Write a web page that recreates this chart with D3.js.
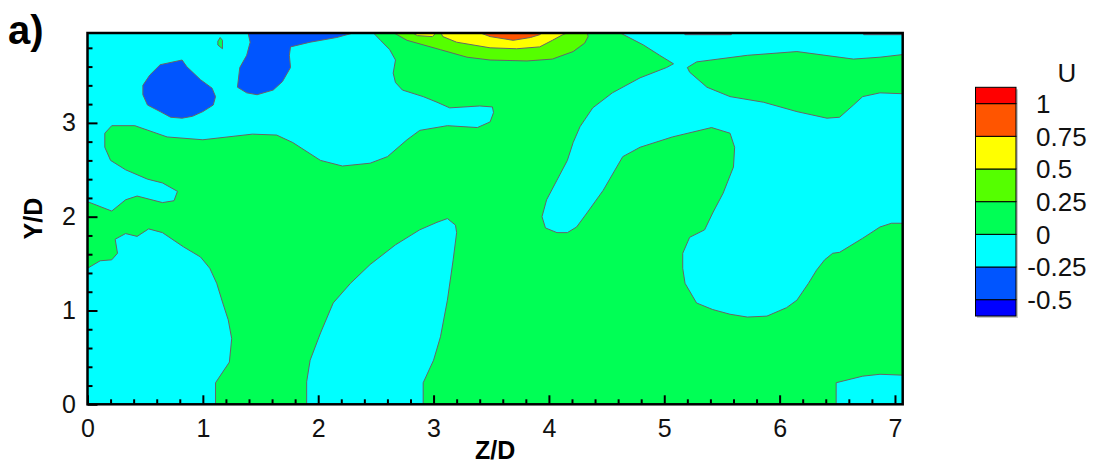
<!DOCTYPE html>
<html>
<head>
<meta charset="utf-8">
<script src="https://cdn.jsdelivr.net/npm/d3@7"></script>
<style>
  body { margin: 0; background: #fff; }
  svg { display: block; font-family: "Liberation Sans", Arial, sans-serif; }
</style>
</head>
<body>
<svg id="chart" width="1097" height="463"></svg>
<script>
// contour levels of U and the colour of each band (below -0.5 ... above 1)
const levels = [-0.5, -0.25, 0, 0.25, 0.5, 0.75, 1];
const bandColors = ["#0000ff", "#0055ff", "#00ffff", "#00ff55", "#55ff00", "#ffff00", "#ff5500", "#ff0000"];
const zTicks = [0, 1, 2, 3, 4, 5, 6, 7];
const yTicks = [0, 1, 2, 3];

// region outlines, in (Z/D, Y/D); band = index into bandColors
const greenMain = [
  [0,2.16],[0.21,2.06],[0.33,2.18],[0.43,2.22],[0.65,2.15],[0.75,2.17],[0.78,2.27],[0.65,2.36],
  [0.52,2.40],[0.33,2.50],[0.20,2.60],[0.15,2.74],[0.15,2.89],[0.21,2.97],[0.41,2.97],[0.69,2.85],
  [1.00,2.82],[1.43,2.88],[1.64,2.87],[1.78,2.79],[2.02,2.60],[2.21,2.54],[2.45,2.57],[2.60,2.64],
  [2.77,2.82],[2.88,2.92],[3.12,2.97],[3.38,2.95],[3.49,3.01],[3.52,3.11],[3.51,3.17],[3.40,3.18],
  [3.14,3.16],[3.03,3.22],[2.91,3.28],[2.73,3.35],[2.67,3.43],[2.65,3.53],[2.67,3.67],[2.62,3.78],
  [2.54,3.88],[2.47,3.97],
  [4.60,3.97],[4.82,3.83],[4.96,3.72],[5.08,3.63],[5.02,3.59],[4.79,3.48],[4.55,3.32],[4.38,3.16],
  [4.27,2.96],[4.21,2.79],[4.16,2.60],[4.07,2.39],[3.98,2.18],[3.94,2.00],[3.97,1.88],[4.07,1.83],
  [4.16,1.83],[4.24,1.89],[4.33,2.04],[4.47,2.28],[4.64,2.64],[4.79,2.74],[5.07,2.85],[5.41,2.95],
  [5.57,2.89],[5.61,2.74],[5.60,2.53],[5.51,2.25],[5.42,2.04],[5.35,1.86],[5.22,1.78],[5.16,1.61],
  [5.16,1.45],[5.18,1.29],[5.28,1.08],[5.42,1.01],[5.57,0.96],[5.72,0.93],[5.89,0.94],[6.06,1.03],
  [6.15,1.11],[6.25,1.29],[6.32,1.43],[6.39,1.54],[6.46,1.61],[6.52,1.62],[6.72,1.77],[6.87,1.89],
  [6.97,1.93],[7.08,1.93],
  [7.08,0.31],[6.87,0.32],[6.72,0.30],[6.49,0.23],[6.49,-0.01],
  [2.91,-0.01],[2.91,0.23],[3.00,0.47],[3.06,0.72],[3.12,1.11],[3.17,1.54],[3.20,1.83],[3.19,1.91],
  [3.12,1.98],[3.03,1.94],[2.88,1.86],[2.67,1.70],[2.45,1.49],[2.28,1.29],[2.13,1.08],[2.02,0.76],
  [1.93,0.47],[1.90,0.24],[1.90,-0.01],
  [1.11,-0.01],[1.11,0.23],[1.23,0.45],[1.25,0.70],[1.22,0.90],[1.17,1.09],[1.12,1.29],[1.06,1.45],
  [0.98,1.57],[0.83,1.68],[0.65,1.83],[0.53,1.87],[0.43,1.79],[0.33,1.82],[0.24,1.76],[0.26,1.61],
  [0.21,1.54],[0.11,1.53],[0,1.45]
];
const greenStrip = [
  [5.20,3.59],[5.28,3.65],[5.72,3.72],[6.15,3.76],[6.64,3.68],[6.87,3.70],[7.08,3.73],[7.08,3.31],
  [6.87,3.32],[6.72,3.28],[6.64,3.19],[6.52,3.06],[6.41,3.05],[6.15,3.12],[5.86,3.22],[5.57,3.28],
  [5.37,3.38],[5.22,3.54]
];
const greenIsland = [[1.15,3.91],[1.17,3.88],[1.17,3.79],[1.13,3.83],[1.13,3.87]];
const blueBlobLeft = [
  [0.63,3.62],[0.82,3.67],[0.86,3.60],[0.98,3.46],[1.08,3.37],[1.11,3.28],[1.09,3.19],[1.00,3.12],
  [0.91,3.07],[0.82,3.05],[0.72,3.06],[0.63,3.12],[0.52,3.19],[0.48,3.30],[0.48,3.40],[0.54,3.51]
];
const blueBlobTop = [
  [1.39,3.97],[1.41,3.86],[1.38,3.72],[1.32,3.59],[1.30,3.38],[1.38,3.32],[1.47,3.30],[1.61,3.35],
  [1.69,3.44],[1.76,3.59],[1.75,3.72],[1.76,3.81],[1.93,3.86],[2.16,3.91],[2.28,3.95],[2.30,3.97]
];
const blueSlivers = [
  [[5.16,3.97],[5.18,3.94],[5.58,3.94],[5.60,3.97]],
  [[6.71,3.97],[6.73,3.94],[7.08,3.94],[7.08,3.97]]
];
const yellowGreen = [
  [2.64,3.97],[2.77,3.88],[3.06,3.78],[3.29,3.70],[3.49,3.67],[3.81,3.66],[4.03,3.68],[4.21,3.76],
  [4.31,3.85],[4.34,3.92],[4.33,3.97]
];
const yellowMain = [
  [3.06,3.97],[3.08,3.92],[3.20,3.86],[3.49,3.80],[3.72,3.79],[3.92,3.81],[4.03,3.88],[4.12,3.94],[4.18,3.97]
];
const yellowSmall = [[2.80,3.97],[2.86,3.93],[2.99,3.92],[3.03,3.97]];
const orange = [[3.38,3.97],[3.49,3.92],[3.69,3.88],[3.84,3.91],[3.92,3.94],[3.95,3.97]];

const regions = [
  { band: 3, pts: greenMain },
  { band: 3, pts: greenStrip },
  { band: 1, pts: blueBlobLeft },
  { band: 1, pts: blueBlobTop },
  { band: 1, pts: blueSlivers[0] },
  { band: 1, pts: blueSlivers[1] },
  { band: 3, pts: greenIsland },
  { band: 4, pts: yellowGreen },
  { band: 5, pts: yellowSmall },
  { band: 5, pts: yellowMain },
  { band: 6, pts: orange }
];

const svg = d3.select("#chart");
const x = d3.scaleLinear().domain([0, 7.067]).range([87.5, 902.7]);
const y = d3.scaleLinear().domain([0, 3.958]).range([404.3, 33]);

svg.append("clipPath").attr("id", "plotClip")
  .append("rect")
  .attr("x", x(0)).attr("y", y(3.958))
  .attr("width", x(7.067) - x(0)).attr("height", y(0) - y(3.958));

const plot = svg.append("g").attr("clip-path", "url(#plotClip)");

// background band (-0.25 .. 0)
plot.append("rect")
  .attr("x", x(0)).attr("y", y(3.958))
  .attr("width", x(7.067) - x(0)).attr("height", y(0) - y(3.958))
  .attr("fill", bandColors[2]);

const line = d3.line().x(d => x(d[0])).y(d => y(d[1])).curve(d3.curveLinearClosed);

plot.selectAll("path.region")
  .data(regions)
  .join("path")
  .attr("class", "region")
  .attr("d", d => line(d.pts))
  .attr("fill", d => bandColors[d.band])
  .attr("stroke", "#666")
  .attr("stroke-width", 1)
  .attr("stroke-linejoin", "round");

// axes: ticks point into the plot
const minorZ = d3.range(0, 7.01, 0.2).filter(v => Math.abs(v - Math.round(v)) > 0.01);
const minorY = d3.range(0, 3.91, 0.2).filter(v => Math.abs(v - Math.round(v)) > 0.01);

const gx = svg.append("g").attr("transform", `translate(0,${y(0)})`);
gx.call(d3.axisBottom(x).tickValues(minorZ).tickSize(-5).tickFormat(""));
gx.call(g => g.select(".domain").remove());
const gx2 = svg.append("g").attr("transform", `translate(0,${y(0)})`);
gx2.call(d3.axisBottom(x).tickValues(zTicks).tickSize(-9).tickPadding(15).tickFormat(d3.format("d")));
gx2.call(g => g.select(".domain").remove());

const gy = svg.append("g").attr("transform", `translate(${x(0)},0)`);
gy.call(d3.axisLeft(y).tickValues(minorY).tickSize(-5).tickFormat(""));
gy.call(g => g.select(".domain").remove());
const gy2 = svg.append("g").attr("transform", `translate(${x(0)},0)`);
gy2.call(d3.axisLeft(y).tickValues(yTicks).tickSize(-10).tickPadding(11.5).tickFormat(d3.format("d")));
gy2.call(g => g.select(".domain").remove());

svg.selectAll(".tick line").attr("stroke", "#000").attr("stroke-width", 2);
svg.selectAll(".tick text")
  .attr("font-family", "Liberation Sans, Arial, sans-serif")
  .attr("font-size", 25)
  .attr("fill", "#111");

// frame
svg.append("rect")
  .attr("x", x(0)).attr("y", y(3.958))
  .attr("width", x(7.067) - x(0)).attr("height", y(0) - y(3.958))
  .attr("fill", "none").attr("stroke", "#000").attr("stroke-width", 2.5);

// axis titles
svg.append("text")
  .attr("x", (x(0) + x(7.067)) / 2).attr("y", 459)
  .attr("text-anchor", "middle")
  .attr("font-weight", "bold").attr("font-size", 25)
  .text("Z/D");

svg.append("text")
  .attr("transform", `translate(42,${(y(0) + y(3.958)) / 2}) rotate(-90)`)
  .attr("text-anchor", "middle")
  .attr("font-weight", "bold").attr("font-size", 25)
  .text("Y/D");

svg.append("text")
  .attr("x", 8).attr("y", 44)
  .attr("font-weight", "bold").attr("font-size", 40)
  .text("a)");

// legend
const ly = d3.scaleLinear().domain([-0.625, 1.125]).range([316, 87.3]);
const legendBands = bandColors.map((c, i) => ({
  color: c,
  lo: i === 0 ? -0.625 : levels[i - 1],
  hi: i === bandColors.length - 1 ? 1.125 : levels[i]
}));

const legend = svg.append("g");
legend.append("rect")
  .attr("x", 977).attr("y", ly(1.125) + 2)
  .attr("width", 41).attr("height", ly(-0.625) - ly(1.125))
  .attr("fill", "#c8c8c8");
legend.selectAll("rect.band")
  .data(legendBands)
  .join("rect")
  .attr("class", "band")
  .attr("x", 975.5)
  .attr("y", d => ly(d.hi))
  .attr("width", 40.5)
  .attr("height", d => ly(d.lo) - ly(d.hi))
  .attr("fill", d => d.color)
  .attr("stroke", "#000")
  .attr("stroke-width", 1);

legend.selectAll("text.lvl")
  .data(levels)
  .join("text")
  .attr("class", "lvl")
  .attr("x", d => d < 0 ? 1027.3 : 1036)
  .attr("y", d => ly(d))
  .attr("dy", "0.36em")
  .attr("font-size", 26)
  .attr("fill", "#111")
  .text(d => String(d));

legend.append("text")
  .attr("x", 1067).attr("y", 82)
  .attr("text-anchor", "middle")
  .attr("font-size", 26)
  .attr("fill", "#111")
  .text("U");
</script>
</body>
</html>
